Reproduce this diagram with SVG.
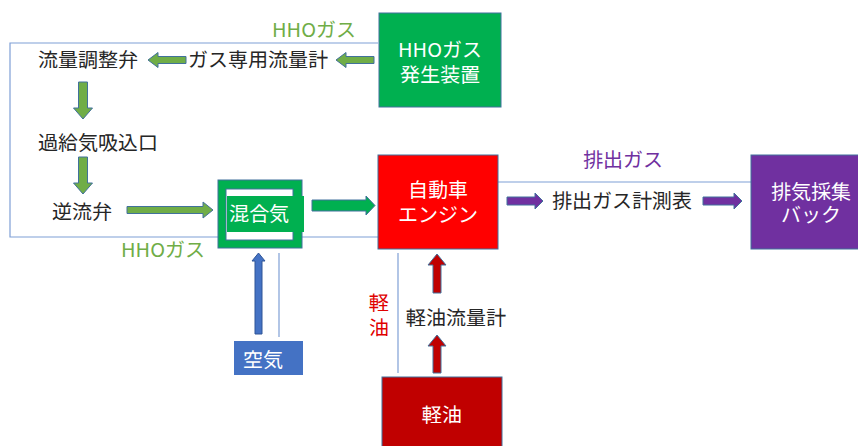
<svg xmlns="http://www.w3.org/2000/svg" width="858" height="446" viewBox="0 0 858 446">
<style>
text{font-family:"Noto Sans JP","Noto Sans CJK JP",sans-serif;font-size:20px}
.d{fill:#262626}
.w{fill:#ffffff}
.g{fill:#70ad47}
.p{fill:#7030a0}
.r{fill:#e00000}
.m{text-anchor:middle}
.ln{stroke:#7f9fd6;stroke-width:1.2;fill:none}
.ga{fill:#70ad47;stroke:#41719c;stroke-width:1}
.ba{fill:#4472c4;stroke:#2f5597;stroke-width:1}
.ra{fill:#c00000;stroke:#41719c;stroke-width:1}
.pa{fill:#7030a0;stroke:#41719c;stroke-width:1}
.box{stroke:#41719c;stroke-width:1}
</style>
<rect width="858" height="446" fill="#ffffff"/>
<g id="connectors">
<polyline class="ln" points="378,43 10,43 10,237 378,237"/>
<line class="ln" x1="279" y1="253" x2="279" y2="337"/>
<line class="ln" x1="398" y1="253" x2="398" y2="373"/>
<line class="ln" x1="498" y1="182" x2="751" y2="182"/>
<polygon class="ga" points="148,60 158,52.5 158,56.5 186,56.5 186,63.5 158,63.5 158,67.5"/>
<polygon class="ga" points="336,60 346,52.5 346,56.5 374,56.5 374,63.5 346,63.5 346,67.5"/>
<polygon class="ga" points="78.5,82 87.5,82 87.5,108 92.5,108 83,119 73.5,108 78.5,108"/>
<polygon class="ga" points="78.5,157 87.5,157 87.5,183 92.5,183 83,194 73.5,183 78.5,183"/>
<polygon class="ga" points="127,206.5 203,206.5 203,202 213,210 203,218 203,213.5 127,213.5"/>
<polygon points="312,200 366,200 366,196 375,205.5 366,215 366,211 312,211" fill="#00b050" stroke="#41719c" stroke-width="1"/>
<polygon class="ba" points="255,334 255,261 252,261 258.5,253 265,261 262,261 262,334"/>
<polygon class="ra" points="433,293 433,265 428,265 437,254 446,265 441,265 441,293"/>
<polygon class="ra" points="433,373 433,346 428,346 437,335 446,346 441,346 441,373"/>
<polygon class="pa" points="507,197 535,197 535,193 543,201 535,209 535,205 507,205"/>
<polygon class="pa" points="703,197 734,197 734,193 742,201 734,209 734,205 703,205"/>
</g>
<g id="hho-generator">
<rect class="box" x="379" y="13" width="122" height="94" fill="#00b050"/>
<text class="w m" x="440" y="57">HHOガス</text>
<text class="w m" x="440" y="82">発生装置</text>
</g>
<g id="hho-label-top"><text class="g m" x="314" y="37">HHOガス</text></g>
<g id="flow-control-valve"><text class="d" x="38" y="67">流量調整弁</text></g>
<g id="gas-flowmeter"><text class="d" x="188" y="67">ガス専用流量計</text></g>
<g id="intake"><text class="d" x="38" y="150">過給気吸込口</text></g>
<g id="check-valve"><text class="d" x="52" y="219">逆流弁</text></g>
<g id="hho-label-bottom"><text class="g m" x="163" y="257">HHOガス</text></g>
<g id="mixer">
<rect class="box" x="218" y="180" width="84" height="68" fill="#00b050"/>
<rect class="box" x="226" y="189" width="67" height="51" fill="#ffffff"/>
<rect x="227" y="196" width="77" height="36" fill="#00b050"/>
<text class="w" x="229" y="221">混合気</text>
</g>
<g id="air">
<rect x="234" y="341" width="69" height="34" fill="#4472c4"/>
<text class="w m" x="263" y="367">空気</text>
</g>
<g id="engine">
<rect class="box" x="378" y="155" width="120" height="94" fill="#ff0000"/>
<text class="w m" x="438" y="197">自動車</text>
<text class="w m" x="438" y="222">エンジン</text>
</g>
<g id="exhaust-label"><text class="p m" x="623" y="167">排出ガス</text></g>
<g id="exhaust-meter"><text class="d" x="552" y="208">排出ガス計測表</text></g>
<g id="exhaust-bag">
<rect class="box" x="751" y="155" width="110" height="94" fill="#7030a0"/>
<text class="w m" x="811" y="199">排気採集</text>
<text class="w m" x="811" y="222">バック</text>
</g>
<g id="diesel-label">
<text class="r m" x="379" y="310">軽</text>
<text class="r m" x="379" y="335">油</text>
</g>
<g id="diesel-flowmeter"><text class="d" x="406" y="325">軽油流量計</text></g>
<g id="diesel">
<rect class="box" x="382" y="377" width="120" height="72" fill="#c00000"/>
<text class="w m" x="442" y="422">軽油</text>
</g>
</svg>
